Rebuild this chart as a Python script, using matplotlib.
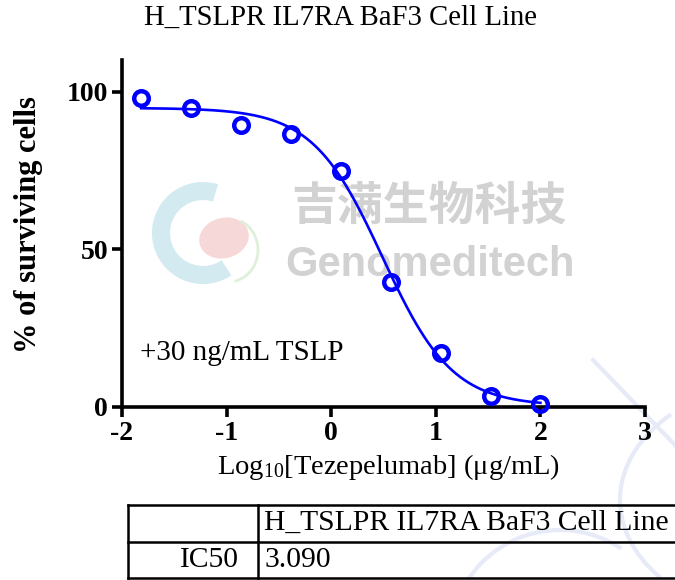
import numpy as np
import matplotlib.pyplot as plt
from matplotlib.lines import Line2D
from matplotlib.patches import Arc, Ellipse

plt.rcParams['font.family'] = ['Liberation Serif', 'DejaVu Serif']
plt.rcParams['mathtext.fontset'] = 'custom'
plt.rcParams['mathtext.rm'] = 'Liberation Serif'
plt.rcParams['mathtext.it'] = 'Liberation Serif:italic'

# 데이터 (log10 농도, 생존율 %)
log_conc = [-1.817, -1.340, -0.863, -0.386, 0.091, 0.569, 1.046, 1.523, 2.000]
survival = [97.8, 94.9, 89.5, 86.6, 74.8, 39.5, 17.2, 3.5, 1.0]

# 4PL 곡선 파라미터
top = 94.8
bottom = 0.3
ic50 = 3.090
hill = 1.3

cell_line = 'H_TSLPR IL7RA BaF3 Cell Line'
xticks = [-2, -1, 0, 1, 2, 3]
yticks = [0, 50, 100]

W, H = 675, 580
fig = plt.figure(figsize=(W / 100, H / 100), dpi=100)

def fx(px):
    return px / W

def fy(py):
    return 1 - py / H

ax = fig.add_axes([fx(122), fy(407), fx(645) - fx(122), fy(60) - fy(407)])
ax.patch.set_alpha(0)

# 워터마크
wm_gray = '#d2d2d2'
fig.text(fx(429), fy(207), '吉满生物科技', fontsize=33, color=wm_gray, weight='bold',
         family=['Noto Sans CJK SC', 'DejaVu Sans'], ha='center', va='center', zorder=-5)
fig.text(fx(430), fy(265), 'Genomeditech', fontsize=30, color=wm_gray, weight='bold',
         family=['Liberation Sans', 'DejaVu Sans'], ha='center', va='center', zorder=-5)
fig.add_artist(Arc((fx(203), fy(233)), fx(84) - fx(0), fy(0) - fy(84), theta1=75, theta2=300,
                   lw=13, color='#d3eaf1', zorder=-6))
fig.add_artist(Ellipse((fx(224), fy(238)), fx(50) - fx(0), fy(0) - fy(38), angle=35,
                       color='#f7d8d8', zorder=-6))
fig.add_artist(Arc((fx(228), fy(250)), fx(60) - fx(0), fy(0) - fy(64), theta1=-80, theta2=70,
                   lw=2, color='#dff0da', zorder=-6))
fig.add_artist(Line2D([fx(593), fx(675)], [fy(360), fy(445)], lw=3, color='#e6ebf7', zorder=-6))
for c, w, h, t1, t2 in [((790, 500), 340, 240, 140, 215), ((560, 640), 220, 220, 60, 160)]:
    fig.add_artist(Arc((fx(c[0]), fy(c[1])), fx(w) - fx(0), fy(0) - fy(h), theta1=t1, theta2=t2,
                       lw=3, color='#e6ebf7', zorder=-6))

# 곡선
xs = np.linspace(log_conc[0], log_conc[-1], 300)
ys = bottom + (top - bottom) / (1 + 10 ** ((xs - np.log10(ic50)) * hill))
ax.plot(xs, ys, color='#0000ff', lw=1.9, zorder=3)
ax.plot(log_conc, survival, 'o', ms=10.5, mfc='none', mec='#0000ff', mew=3.2, clip_on=False, zorder=4)

ax.set_xlim(-2, 3)
ax.set_ylim(0, 110)
ax.set_xticks(xticks)
ax.set_yticks(yticks)
ax.set_xticklabels([str(t) for t in xticks], fontsize=20, weight='bold')
ax.set_yticklabels([str(t) for t in yticks], fontsize=20, weight='bold')
for s in ['top', 'right']:
    ax.spines[s].set_visible(False)
for s in ['left', 'bottom']:
    ax.spines[s].set_linewidth(2.6)
ax.tick_params(width=2.6, length=7, pad=3)

ax.set_xlabel(r'Log$_{10}$[Tezepelumab] ($\mathrm{\mu}$g/mL)', fontsize=20.5, va='center')
ax.xaxis.set_label_coords(0.509, -0.173)
ax.set_ylabel('% of surviving cells', fontsize=22, weight='bold', va='center')
ax.yaxis.set_label_coords(-0.178, 0.527)
ax.text(-1.83, 17, '+30 ng/mL TSLP', fontsize=21, va='center')

fig.text(fx(341), fy(18), cell_line, fontsize=20.7, ha='center', va='center')

# 표
lw = 1.8
for y in [505, 542, 578]:
    fig.add_artist(Line2D([fx(128), 1], [fy(y), fy(y)], color='k', lw=lw))
for x in [128, 258]:
    fig.add_artist(Line2D([fx(x), fx(x)], [fy(505), fy(578)], color='k', lw=lw))
fig.text(fx(264), fy(523), cell_line, fontsize=21.3, va='center')
fig.text(fx(239), fy(560), 'IC50', fontsize=21.3, ha='right', va='center')
fig.text(fx(264), fy(560), '%.3f' % ic50, fontsize=21.3, va='center')

fig.savefig('out.png', dpi=100)
